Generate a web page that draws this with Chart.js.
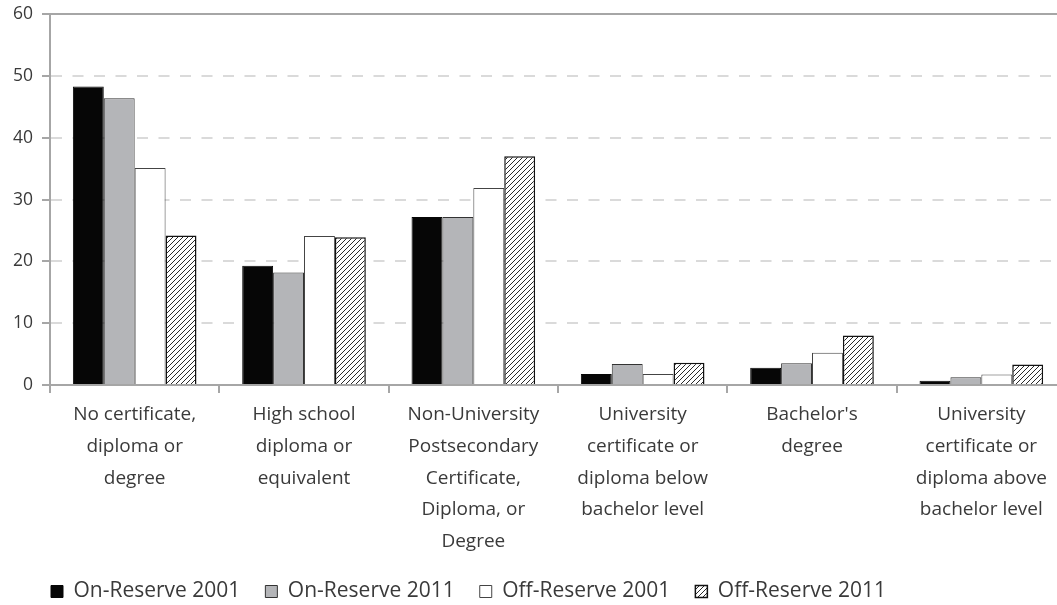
<!DOCTYPE html>
<html>
<head>
<meta charset="utf-8">
<script src="https://cdn.jsdelivr.net/npm/chart.js@4/dist/chart.umd.min.js"></script>
<style>
  html, body { margin: 0; padding: 0; background: #fff; overflow: hidden; }
  #wrap { width: 1075px; height: 605px; position: relative; }
</style>
</head>
<body>
<div id="wrap"><canvas id="eduChart"></canvas></div>
<script>
// categories (multi-line labels)
const categories = [
  ['No certificate,', 'diploma or', 'degree'],
  ['High school', 'diploma or', 'equivalent'],
  ['Non-University', 'Postsecondary', 'Certificate,', 'Diploma, or', 'Degree'],
  ['University', 'certificate or', 'diploma below', 'bachelor level'],
  ["Bachelor's", 'degree'],
  ['University', 'certificate or', 'diploma above', 'bachelor level']
];

const seriesNames = ['On-Reserve 2001', 'On-Reserve 2011', 'Off-Reserve 2001', 'Off-Reserve 2011'];

const onReserve2001 = [48.3, 19.3, 27.2, 1.8, 2.8, 0.7];
const onReserve2011 = [46.4, 18.2, 27.2, 3.4, 3.5, 1.25];
const offReserve2001 = [35.1, 24.1, 31.9, 1.8, 5.2, 1.7];
const offReserve2011 = [24.2, 23.9, 37.0, 3.6, 8.0, 3.3];

const yTicks = [0, 10, 20, 30, 40, 50, 60];

// diagonal hatch fill for the last series
function makeHatch() {
  const c = document.createElement('canvas');
  c.width = 5; c.height = 5;
  const g = c.getContext('2d');
  g.fillStyle = '#fff';
  g.fillRect(0, 0, 5, 5);
  g.strokeStyle = '#2a2a2a';
  g.lineWidth = 1;
  g.beginPath();
  g.moveTo(0, 5); g.lineTo(5, 0);
  g.moveTo(-1, 1); g.lineTo(1, -1);
  g.moveTo(4, 6); g.lineTo(6, 4);
  g.stroke();
  return g.createPattern(c, 'repeat');
}
const hatch = makeHatch();

// legend sits a bit right of the y labels in the original
const legendShift = {
  id: 'legendShift',
  afterLayout(chart) {
    if (chart.legend) {
      chart.legend.left += 22;
      chart.legend.right += 22;
      chart.legend.top += 2;
      chart.legend.bottom += 2;
    }
  }
};

const fontFamily = '"Open Sans", "DejaVu Sans", sans-serif';
const axisGray = '#a6a6a6';
const textColor = '#3a3a3a';

new Chart(document.getElementById('eduChart').getContext('2d'), {
  type: 'bar',
  data: {
    labels: categories,
    datasets: [
      { label: seriesNames[0], data: onReserve2001, backgroundColor: '#060606', borderColor: '#060606', borderWidth: 1 },
      { label: seriesNames[1], data: onReserve2011, backgroundColor: '#b4b5b8', borderColor: '#333', borderWidth: 1 },
      { label: seriesNames[2], data: offReserve2001, backgroundColor: '#ffffff', borderColor: '#444', borderWidth: 1 },
      { label: seriesNames[3], data: offReserve2011, backgroundColor: hatch, borderColor: '#111', borderWidth: 1.5 }
    ]
  },
  plugins: [legendShift],
  options: {
    responsive: true,
    maintainAspectRatio: false,
    animation: false,
    categoryPercentage: 0.73,
    barPercentage: 1,
    layout: { padding: { left: 4, right: 9, top: 0, bottom: -5 } },
    scales: {
      x: {
        afterFit: (scale) => { scale.height = 169; },
        grid: { drawOnChartArea: false, drawTicks: true, tickLength: 8, color: axisGray, lineWidth: 2 },
        border: { color: axisGray, width: 2 },
        ticks: {
          color: textColor,
          maxRotation: 0,
          autoSkip: false,
          padding: 6,
          font: { family: fontFamily, size: 19, lineHeight: 1.67 }
        }
      },
      xTop: {
        type: 'category',
        position: 'top',
        afterFit: (scale) => { scale.height = 0; },
        grid: { display: false },
        ticks: { display: false },
        border: { display: true, color: axisGray, width: 2 }
      },
      y: {
        min: 0,
        max: 60,
        afterBuildTicks: (scale) => { scale.ticks = yTicks.map(v => ({ value: v })); },
        grid: { color: '#dadada', lineWidth: 2, tickLength: 8, tickColor: axisGray, tickBorderDash: [] },
        border: { color: axisGray, width: 2, dash: [11, 10.5] },
        ticks: {
          color: textColor,
          padding: 9,
          font: { family: fontFamily, size: 17.5, lineHeight: 0.6 }
        }
      }
    },
    plugins: {
      legend: {
        position: 'bottom',
        align: 'start',
        labels: {
          color: textColor,
          boxWidth: 12,
          boxHeight: 12,
          padding: 25,
          font: { family: fontFamily, size: 21 }
        }
      },
      tooltip: { enabled: false }
    }
  }
});
</script>
</body>
</html>
